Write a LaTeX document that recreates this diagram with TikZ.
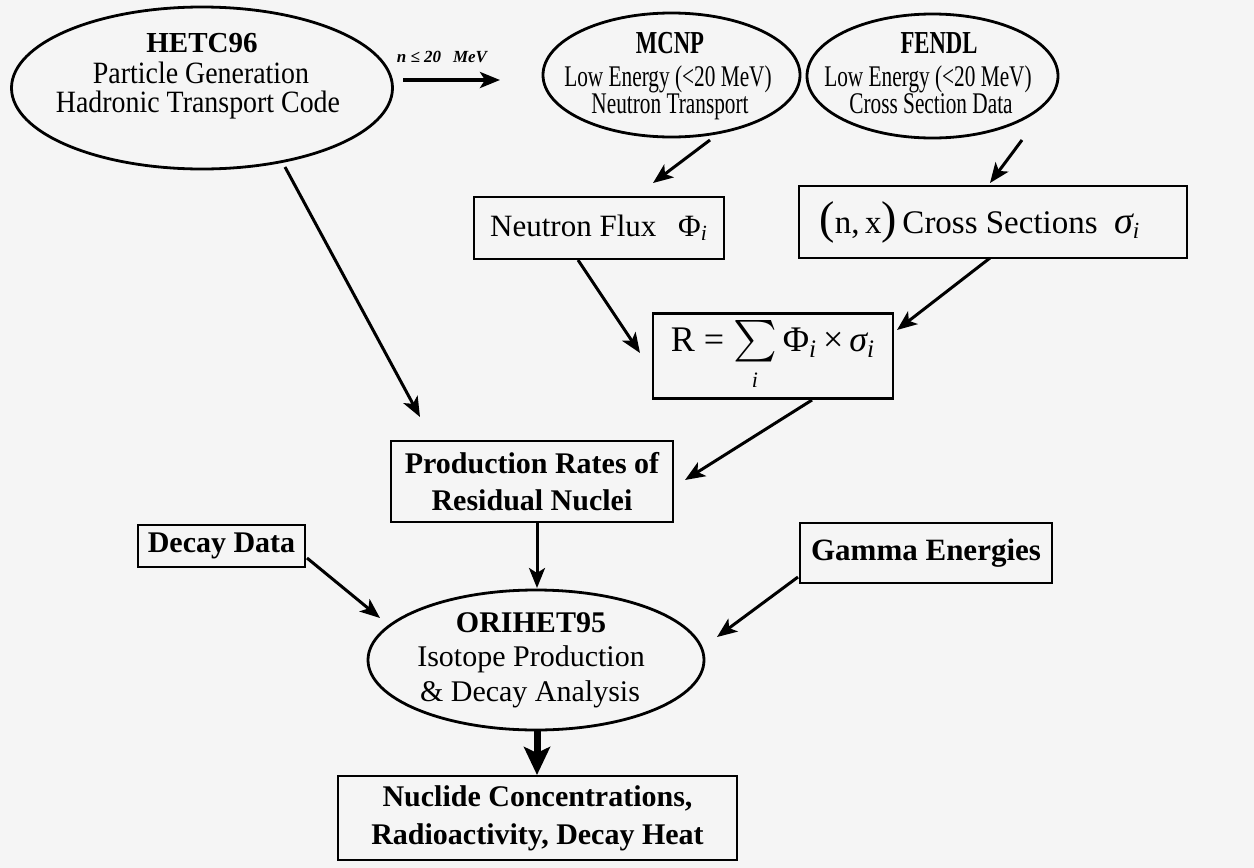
\documentclass[tikz,border=0pt]{standalone}
\usepackage{amsmath}
\usepackage{fontspec}
\setmainfont{Liberation Serif}
\newfontfamily\condfont{Liberation Serif}[FakeStretch=0.71]
\newfontfamily\hetcfont{Liberation Serif}[FakeStretch=0.9]
\usetikzlibrary{shapes.geometric,arrows.meta,calc}
\definecolor{bg}{RGB}{245,245,245}
\begin{document}
\begin{tikzpicture}[x=0.5pt,y=-0.5pt,
  oval/.style={draw,ellipse,line width=1.4pt,inner sep=0pt},
  box/.style={draw,rectangle,line width=1.4pt,inner sep=0pt,align=center},
  ttl/.style={anchor=base,inner sep=0pt,font=\fontsize{15}{15}\selectfont\bfseries},
  lne/.style={anchor=base,inner sep=0pt,font=\fontsize{15}{15}\selectfont},
  condttl/.style={anchor=base,inner sep=0pt,font=\condfont\fontsize{16}{16}\selectfont\bfseries},
  condlne/.style={anchor=base,inner sep=0pt,font=\condfont\fontsize{15}{15}\selectfont},
  boldbox/.style={box,font=\fontsize{15}{18.5}\selectfont\bfseries},
  arr/.style={line width=1.5pt,-{Stealth[length=10pt,width=8pt,inset=2.5pt]}},
  bigarr/.style={line width=3.5pt,-{Stealth[length=14pt,width=13pt,inset=3pt]}}
]
\fill[bg] (0,0) rectangle (1254,868);
\useasboundingbox (0,0) rectangle (1254,868);

% ellipses
\node[oval,minimum width=190.5pt,minimum height=81pt] (hetc) at (202,88) {};
\node[oval,minimum width=128.5pt,minimum height=62pt] (mcnp) at (671.5,75) {};
\node[oval,minimum width=125.5pt,minimum height=62pt] (fendl) at (932.5,76) {};
\node[oval,minimum width=168pt,minimum height=70pt] (orihet) at (536,660) {};

% ellipse texts
\node[ttl,font=\fontsize{14.5}{15}\selectfont\bfseries] (hetcT) at (202,52) {HETC96};
\node[lne,font=\hetcfont\fontsize{15.5}{15}\selectfont] (hetcA) at (201,83) {Particle Generation};
\node[lne,font=\hetcfont\fontsize{15.5}{15}\selectfont] (hetcB) at (198,112) {Hadronic Transport Code};

\node[condttl] (mcnpT) at (670,53) {MCNP};
\node[condlne] (mcnpA) at (668,86) {Low Energy (<20 MeV)};
\node[condlne] (mcnpB) at (670,113) {Neutron Transport};

\node[condttl] (fendlT) at (939,53) {FENDL};
\node[condlne] (fendlA) at (928,86) {Low Energy (<20 MeV)};
\node[condlne] (fendlB) at (931,113) {Cross Section Data};

\node[ttl] (oriT) at (531,632) {ORIHET95};
\node[lne] (oriA) at (531,666) {Isotope Production};
\node[lne] (oriB) at (530,701) {\& Decay Analysis};

\node[anchor=base,inner sep=0pt,font=\fontsize{8.5}{10}\selectfont\bfseries\itshape] (nlab) at (442,62) {n ≤ 20\hspace{0.7em}MeV};

% boxes
\node[box,minimum width=125pt,minimum height=31pt,font=\fontsize{15.5}{18}\selectfont] (flux) at (599,228)
  {Neutron Flux\hspace{0.7em}Φ\textsubscript{\textit{i}}};
\node[box,minimum width=194pt,minimum height=36pt,font=\fontsize{16.5}{18}\selectfont] (xs) at (993,222)
  {{\fontsize{23}{23}\selectfont(}n,\,x{\fontsize{23}{23}\selectfont)}\,Cross Sections\hspace{0.5em}{\fontsize{19}{19}\selectfont\itshape σ}\textsubscript{\textit{i}}\hspace{13pt}};
\node[box,minimum width=120pt,minimum height=42.5pt,font=\fontsize{18}{20}\selectfont] (R) at (773,356)
  {R = {\fontsize{21}{21}\selectfont$\sum\limits_{\text{\fontsize{11}{11}\selectfont\itshape i}}$}\,Φ\textsubscript{\textit{i}}\,×\,{\itshape σ}\textsubscript{\textit{i}}};
\node[boldbox,minimum width=141pt,minimum height=40.5pt] (prod) at (532,481.5)
  {Production Rates of\\Residual Nuclei};
\node[boldbox,minimum width=83.5pt,minimum height=21pt] (decay) at (221.5,546) {Decay Data};
\node[boldbox,minimum width=126pt,minimum height=30pt,font=\fontsize{15.5}{18.5}\selectfont\bfseries] (gamma) at (926,553) {Gamma Energies};
\node[boldbox,minimum width=199.5pt,minimum height=42pt,font=\fontsize{15}{19}\selectfont\bfseries] (nuclide) at (537.5,818)
  {Nuclide Concentrations,\\Radioactivity, Decay Heat};

% connectors
\draw[arr,line width=2pt] ($(hetc.center)+(201,-8)$) -- ($(mcnp.center)+(-171.5,5)$);
\draw[arr] ($(hetc.center)+(83,79)$) -- ($(prod.center)+(-112,-64.5)$);
\draw[arr] ($(mcnp.center)+(38.5,65)$) -- ($(flux.center)+(54,-45)$);
\draw[arr] ($(fendl.center)+(89.5,64)$) -- ($(xs.center)+(-3,-39)$);
\draw[arr] ($(flux.center)+(-21,32)$) -- ($(R.center)+(-133,-3)$);
\draw[arr] ($(xs.center)+(-3,36)$) -- ($(R.center)+(124,-26)$);
\draw[arr] ($(R.center)+(39,44)$) -- ($(prod.center)+(153,-1.5)$);
\draw[arr] ($(prod.center)+(5,40.5)$) -- ($(orihet.center)+(1,-72)$);
\draw[arr] ($(decay.center)+(85.5,12)$) -- ($(orihet.center)+(-156,-42)$);
\draw[arr] ($(gamma.center)+(-128,24)$) -- ($(orihet.center)+(181,-23)$);
\draw[bigarr] ($(orihet.center)+(1,70)$) -- ($(nuclide.center)+(-0.5,-43)$);
\end{tikzpicture}
\end{document}
